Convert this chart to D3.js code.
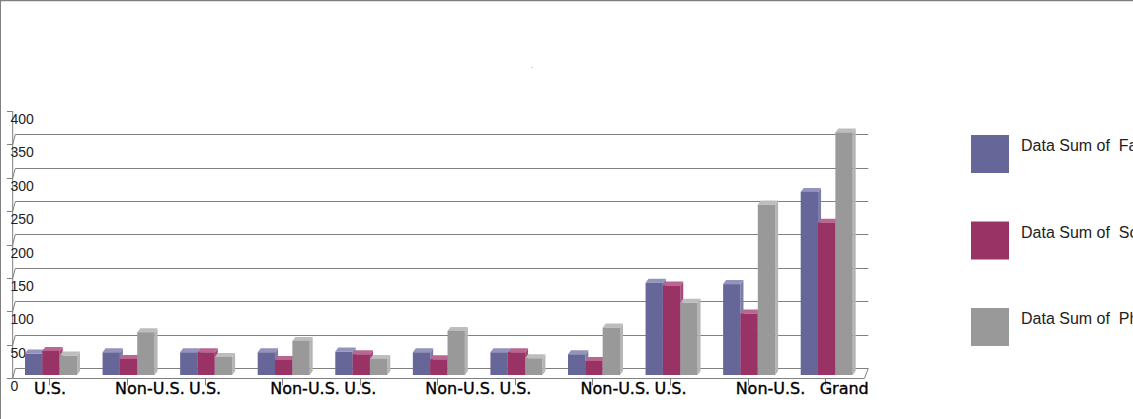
<!DOCTYPE html>
<html>
<head>
<meta charset="utf-8">
<script src="https://cdn.jsdelivr.net/npm/d3@7"></script>
<style>
  html, body { margin: 0; padding: 0; background: #fff; overflow: hidden; }
  svg { display: block; }
</style>
</head>
<body>
<svg id="chart" width="1133" height="419"></svg>
<script>
// ---- data ----
const categories = ["U.S.", "Non-U.S.", "U.S.", "Non-U.S.", "U.S.", "Non-U.S.", "U.S.", "Non-U.S.", "U.S.", "Non-U.S.", "Grand"];
const seriesNames = ["Data Sum of  Faculty", "Data Sum of  Scholars", "Data Sum of  PhDs"];
const faculty  = [32, 34, 34, 34, 35, 34, 34, 31, 138, 136, 274];
const scholars = [36, 24, 34, 22.5, 31, 23.5, 34, 21, 134, 92, 228];
const phds     = [29, 64, 27, 51, 24, 66, 25, 71, 108, 255, 363];
const yTicks   = [0, 50, 100, 150, 200, 250, 300, 350, 400];

const seriesValues = [faculty, scholars, phds];
const frontColors = ["#666699", "#993366", "#999999"];
const topColors   = ["#9393bb", "#bb6690", "#bdbdbd"];
const sideColors  = ["#7c7cab", "#a9487a", "#b5b5b5"];

const svg = d3.select("#chart");

// frame
svg.append("line").attr("x1", 0).attr("y1", 0.5).attr("x2", 1133).attr("y2", 0.5)
  .attr("stroke", "#808080").attr("stroke-width", 1.5);
svg.append("line").attr("x1", 0.5).attr("y1", 0).attr("x2", 0.5).attr("y2", 419)
  .attr("stroke", "#808080").attr("stroke-width", 1);

// tiny title mark
svg.append("text").attr("x", 532).attr("y", 68).attr("text-anchor", "middle")
  .attr("font-family", "Liberation Sans, Arial, sans-serif").attr("font-size", 6)
  .attr("fill", "#000").text(".");

// scales
const yFront = d3.scaleLinear().domain([0, 400]).range([378.3, 111]);
const depthX = 2.6, depthY = 10.3;     // wall depth offset
const barShift = 3.3;                  // bars sit slightly behind the front edge
const yBar = v => yFront(v) - barShift;

const axisX = 12.7;
const floorRight = 864.3;
const backRight = 868.3;

const x0 = d3.scaleBand().domain(d3.range(categories.length))
  .range([25, 852.7]).paddingInner(0.3297).paddingOuter(0);
const x1 = d3.scaleBand().domain(d3.range(seriesValues.length))
  .range([0, x0.bandwidth()]).padding(0);

const grid = svg.append("g").attr("stroke", "#808080").attr("stroke-width", 1).attr("fill", "none");

// back-wall gridlines + left-wall diagonals
yTicks.filter(t => t < 400).forEach(t => {
  const yb = Math.round(yFront(t) - depthY) + 0.5;
  grid.append("line").attr("x1", axisX + depthX).attr("y1", yb).attr("x2", backRight).attr("y2", yb);
  grid.append("line").attr("x1", axisX).attr("y1", yFront(t)).attr("x2", axisX + depthX).attr("y2", yb);
});
// floor front edge and right diagonal
const yf0 = Math.round(yFront(0)) + 0.5;
grid.append("line").attr("x1", axisX).attr("y1", yf0).attr("x2", floorRight).attr("y2", yf0);
grid.append("line").attr("x1", floorRight).attr("y1", yf0).attr("x2", backRight).attr("y2", Math.round(yFront(0) - depthY) + 0.5);

// y axis line and ticks
grid.append("line").attr("x1", axisX).attr("y1", yFront(400)).attr("x2", axisX).attr("y2", yFront(0));
yTicks.forEach(t => {
  const y = Math.round(yFront(t)) + 0.5;
  grid.append("line").attr("x1", 7).attr("y1", y).attr("x2", axisX).attr("y2", y);
});

// y tick labels
svg.append("g").selectAll("text").data(yTicks).join("text")
  .attr("x", 10.5).attr("y", d => yFront(d) + 13)
  .attr("font-family", "Liberation Sans, Arial, sans-serif").attr("font-size", 14)
  .attr("fill", "#222").text(d => d);

// category ticks
categories.forEach((c, i) => {
  const cx = Math.round(x0(i) + x0.bandwidth() / 2 - 1.5) + 0.5;
  grid.append("line").attr("x1", cx).attr("y1", yFront(0)).attr("x2", cx).attr("y2", yFront(0) + 7);
});

// bars
const dx = 3, dy = 4;
const bars = svg.append("g");
categories.forEach((c, i) => {
  seriesValues.forEach((vals, s) => {
    const v = vals[i];
    const x = x0(i) + x1(s), w = x1.bandwidth();
    const top = yBar(v), bottom = yBar(0);
    bars.append("path")
      .attr("d", `M${x + w},${top}L${x + w + dx},${top - dy}L${x + w + dx},${bottom - dy}L${x + w},${bottom}Z`)
      .attr("fill", sideColors[s]);
    bars.append("path")
      .attr("d", `M${x},${top}L${x + dx},${top - dy}L${x + w + dx},${top - dy}L${x + w},${top}Z`)
      .attr("fill", topColors[s]);
    bars.append("rect").attr("x", x).attr("y", top).attr("width", w).attr("height", bottom - top)
      .attr("fill", frontColors[s]);
  });
});

// category labels
svg.append("g").selectAll("text").data(categories).join("text")
  .attr("x", (d, i) => {
    const cx = x0(i) + x0.bandwidth() / 2;
    if (d === "U.S.") return cx - 1;
    if (d === "Grand") return cx - 7;
    return cx - 13.5;
  })
  .attr("text-anchor", d => d === "U.S." ? "middle" : "start")
  .attr("y", 394)
  .attr("font-family", "DejaVu Sans, sans-serif").attr("font-size", 16)
  .attr("fill", "#000").attr("stroke", "#000").attr("stroke-width", 0.35)
  .text(d => d);

// legend
const legend = svg.append("g");
seriesNames.forEach((name, s) => {
  const ly = 135 + s * 86.5;
  legend.append("rect").attr("x", 971).attr("y", ly).attr("width", 38).attr("height", 38)
    .attr("fill", frontColors[s]);
  legend.append("text").attr("x", 1021).attr("y", ly + 16)
    .attr("font-family", "Liberation Sans, Arial, sans-serif").attr("font-size", 16)
    .attr("fill", "#222").style("white-space", "pre").text(name);
});
</script>
</body>
</html>
